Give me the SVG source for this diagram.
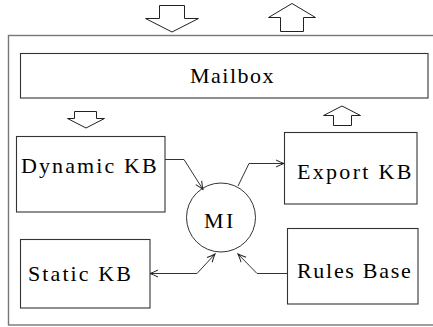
<svg xmlns="http://www.w3.org/2000/svg" width="433" height="327" viewBox="0 0 433 327" font-family="Liberation Serif, serif">
  <style>
    .box { fill: #fff; stroke: #333; stroke-width: 1.1; }
    .frame { fill: none; stroke: #777; stroke-width: 1.4; }
    .blk { fill: #fff; stroke: #222; stroke-width: 1; }
    .wire { fill: none; stroke: #333; stroke-width: 1; }
  </style>
  <defs>
    <marker id="head" viewBox="-9 -5 10 10" refX="0" refY="0" markerWidth="10" markerHeight="10" markerUnits="userSpaceOnUse" orient="auto-start-reverse">
      <path d="M -8 -3.5 Q -3 -1 0 0 Q -3 1 -8 3.5" fill="none" stroke="#222" stroke-width="1"/>
    </marker>
  </defs>

  <!-- outer system frame -->
  <rect class="frame" x="8.5" y="35.5" width="440" height="289.5"/>

  <!-- external in/out block arrows -->
  <g id="arrow-in-top">
    <path class="blk" d="M159.5 5.5 H184.5 V18.5 H198.5 L172 32 L145.5 18.5 H159.5 Z"/>
  </g>
  <g id="arrow-out-top">
    <path class="blk" d="M280.5 31.5 V17.5 H268.5 L292 3.5 L315.5 17.5 H303.5 V31.5 Z"/>
  </g>

  <g id="mailbox">
    <rect class="box" x="20.5" y="53.5" width="407.5" height="44.5"/>
    <text x="190" y="83" style="font-family:'Liberation Serif',serif;font-size:22px" letter-spacing="1.5">Mailbox</text>
  </g>

  <!-- internal block arrows under the mailbox -->
  <g id="arrow-in-inner">
    <path class="blk" d="M74.5 111.5 H96.5 V118.5 H104.5 L86 128 L67.5 118.5 H74.5 Z"/>
  </g>
  <g id="arrow-out-inner">
    <path class="blk" d="M333.5 125.5 V115.5 H323.5 L342 106 L360.5 115.5 H351.5 V125.5 Z"/>
  </g>

  <g id="dynamic-kb">
    <rect class="box" x="16.5" y="136.5" width="148.5" height="75.5"/>
    <text x="21" y="173" style="font-family:'Liberation Serif',serif;font-size:22px" letter-spacing="2.1">Dynamic KB</text>
  </g>

  <g id="export-kb">
    <rect class="box" x="284.5" y="132.5" width="132.5" height="71.5"/>
    <text x="297" y="179" style="font-family:'Liberation Serif',serif;font-size:22px" letter-spacing="2.3">Export KB</text>
  </g>

  <g id="static-kb">
    <rect class="box" x="20.5" y="239.5" width="129.5" height="68.5"/>
    <text x="28" y="281" style="font-family:'Liberation Serif',serif;font-size:22px" letter-spacing="2.1">Static KB</text>
  </g>

  <g id="rules-base">
    <rect class="box" x="287.5" y="228.5" width="130.5" height="75.5"/>
    <text x="297" y="278" style="font-family:'Liberation Serif',serif;font-size:22px" letter-spacing="1.7">Rules Base</text>
  </g>

  <g id="mi">
    <circle cx="221" cy="217.5" r="34.5" fill="#fff" stroke="#333" stroke-width="1"/>
    <text x="204" y="228" style="font-family:'Liberation Serif',serif;font-size:22px" letter-spacing="2.5">MI</text>
  </g>

  <g id="connectors">
    <polyline class="wire" points="165,159.5 184,159.5 203,189.5" marker-end="url(#head)"/>
    <polyline class="wire" points="238,186 249,163.5 284,163.5" marker-end="url(#head)"/>
    <polyline class="wire" points="150,273.5 197,273.5 215,254" marker-start="url(#head)" marker-end="url(#head)"/>
    <polyline class="wire" points="287,273.5 257,273.5 238,254" marker-end="url(#head)"/>
  </g>
</svg>
